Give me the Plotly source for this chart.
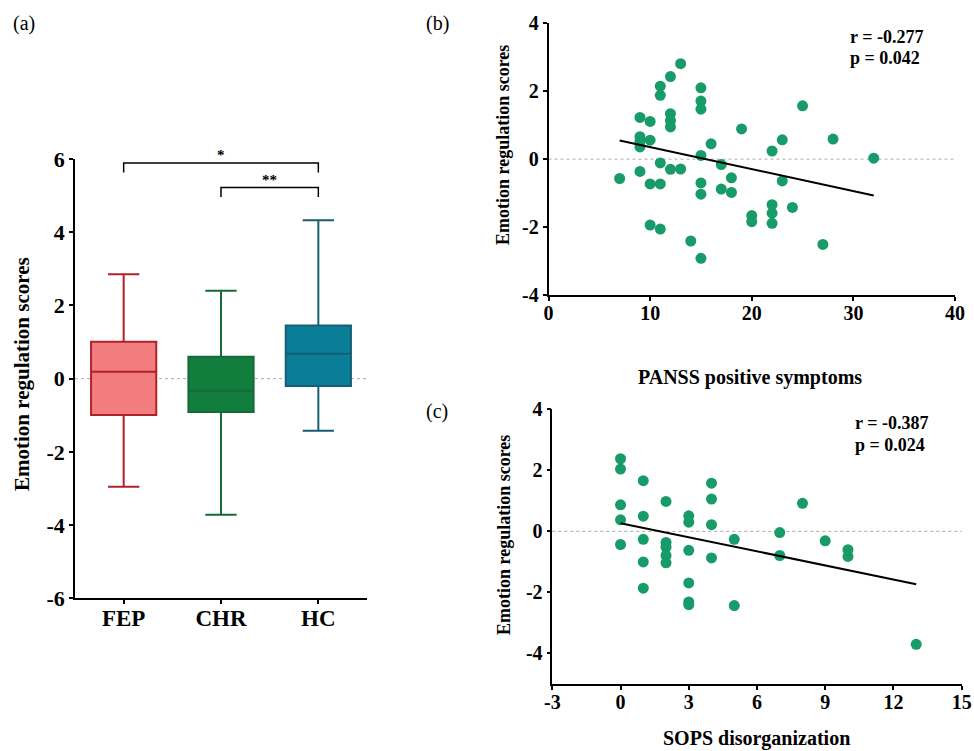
import plotly.graph_objects as go

# ---------------- data ----------------
groups = ["FEP", "CHR", "HC"]
box_lower = [-2.95, -3.72, -1.42]
box_q1 = [-0.99, -0.91, -0.20]
box_median = [0.19, -0.33, 0.68]
box_q3 = [1.01, 0.60, 1.45]
box_upper = [2.85, 2.40, 4.33]
sig_labels = ["*", "**"]
sig_from = ["FEP", "CHR"]
sig_to = ["HC", "HC"]

a_yticks = [-6, -4, -2, 0, 2, 4, 6]
a_yticktext = ["-6", "-4", "-2", "0", "2", "4", "6"]
b_xticks = [0, 10, 20, 30, 40]
b_yticks = [-4, -2, 0, 2, 4]
b_yticktext = ["-4", "-2", "0", "2", "4"]
c_xticks = [-3, 0, 3, 6, 9, 12, 15]
c_xticktext = ["-3", "0", "3", "6", "9", "12", "15"]
c_yticks = [-4, -2, 0, 2, 4]
c_yticktext = ["-4", "-2", "0", "2", "4"]

panss_x = [7, 9, 9, 9, 9, 9, 10, 10, 10, 10, 11, 11, 11, 11, 11, 12, 12, 12, 12, 12,
           13, 13, 14, 15, 15, 15, 15, 15, 15, 15, 16, 17, 17, 18, 18, 19, 20, 20,
           22, 22, 22, 22, 23, 23, 24, 25, 27, 28, 32]
panss_y = [-0.57, 1.23, 0.66, 0.52, 0.36, -0.36, 1.11, 0.56, -0.73, -1.94, 2.15, 1.88,
           -0.11, -0.73, -2.06, 2.43, 1.34, 1.14, 0.95, -0.30, 2.81, -0.29, -2.41, 2.10,
           1.71, 1.47, 0.11, -0.70, -1.03, -2.92, 0.45, -0.16, -0.88, -0.55, -0.98, 0.89,
           -1.66, -1.84, 0.24, -1.34, -1.59, -1.89, 0.57, -0.64, -1.42, 1.57, -2.51, 0.59, 0.03]
panss_fit_x = [7, 32]
panss_fit_y = [0.55, -1.07]
panss_stats = ["r = -0.277", "p = 0.042"]

sops_x = [0, 0, 0, 0, 0, 1, 1, 1, 1, 1, 2, 2, 2, 2, 2, 3, 3, 3, 3, 3, 3,
          4, 4, 4, 4, 5, 5, 7, 7, 8, 9, 10, 10, 13]
sops_y = [2.38, 2.04, 0.87, 0.38, -0.43, 1.66, 0.50, -0.26, -1.00, -1.86, 0.98, -0.36,
          -0.52, -0.79, -1.03, 0.51, 0.30, -0.62, -1.69, -2.31, -2.40, 1.58, 1.06, 0.22,
          -0.87, -0.26, -2.43, -0.04, -0.79, 0.92, -0.31, -0.60, -0.82, -3.70]
sops_fit_x = [0, 13]
sops_fit_y = [0.27, -1.73]
sops_stats = ["r = -0.387", "p = 0.024"]

# ---------------- styling ----------------
W, H = 974, 751
OFF = 0  # body margin removed by post_script
FONT = "Liberation Serif"
box_fill = ["#F27D7F", "#117E3E", "#0B7E97"]
box_line = ["#B02228", "#17693A", "#165E78"]
dot_color = "#179B68"


def px(x):
    return (x - OFF) / W


def py(y):
    return 1 - (y - OFF) / H


fig = go.Figure()

# ---- panel (a): box plots ----
for i, g in enumerate(groups):
    fig.add_trace(go.Box(
        x=[g], q1=[box_q1[i]], median=[box_median[i]], q3=[box_q3[i]],
        lowerfence=[box_lower[i]], upperfence=[box_upper[i]],
        fillcolor=box_fill[i], line=dict(color=box_line[i], width=2),
        width=0.67, whiskerwidth=0.48, boxpoints=False, showlegend=False,
        hoverinfo="skip", xaxis="x", yaxis="y",
    ))

# ---- panel (b) ----
fig.add_trace(go.Scatter(x=panss_x, y=panss_y, mode="markers",
                         marker=dict(size=11, color=dot_color),
                         showlegend=False, xaxis="x2", yaxis="y2"))
fig.add_trace(go.Scatter(x=panss_fit_x, y=panss_fit_y, mode="lines",
                         line=dict(color="black", width=2),
                         showlegend=False, xaxis="x2", yaxis="y2"))

# ---- panel (c) ----
fig.add_trace(go.Scatter(x=sops_x, y=sops_y, mode="markers",
                         marker=dict(size=11, color=dot_color),
                         showlegend=False, xaxis="x3", yaxis="y3"))
fig.add_trace(go.Scatter(x=sops_fit_x, y=sops_fit_y, mode="lines",
                         line=dict(color="black", width=2),
                         showlegend=False, xaxis="x3", yaxis="y3"))

tickfont = dict(family=FONT, size=20, color="black", weight="bold")
axis_common = dict(showline=True, linecolor="black", linewidth=1.5, ticks="outside",
                   ticklen=4, tickwidth=1.5, tickcolor="black", showgrid=False,
                   zeroline=False, mirror=False, automargin=False)

fig.update_layout(
    template="none",
    width=W, height=H, margin=dict(l=0, r=0, t=0, b=0, autoexpand=False),
    paper_bgcolor="white", plot_bgcolor="white", boxmode="overlay",
    xaxis=dict(domain=[px(75), px(367)], type="category", range=[-0.5, 2.5],
               anchor="y", ticklabelstandoff=-6,
               tickfont=dict(family=FONT, size=23, color="black", weight="bold"),
               **axis_common),
    yaxis=dict(domain=[py(598.3), py(159)], range=[-6, 6], tickvals=a_yticks,
               ticktext=a_yticktext, anchor="x",
               tickfont=dict(family=FONT, size=22, color="black", weight="bold"),
               **axis_common),
    xaxis2=dict(domain=[px(548.5), px(955)], range=[0, 40], tickvals=b_xticks,
                anchor="y2", ticklabelstandoff=-5, tickfont=tickfont, **axis_common),
    yaxis2=dict(domain=[py(295), py(23.3)], range=[-4, 4], tickvals=b_yticks,
                ticktext=b_yticktext, anchor="x2", tickfont=tickfont, **axis_common),
    xaxis3=dict(domain=[px(552.3), px(961.7)], range=[-3, 15],
                tickvals=c_xticks, ticktext=c_xticktext, ticklabelstandoff=-5,
                anchor="y3", tickfont=tickfont, **axis_common),
    yaxis3=dict(domain=[py(684), py(409.3)], range=[-5, 4], tickvals=c_yticks,
                ticktext=c_yticktext, anchor="x3", tickfont=tickfont, **axis_common),
)

# zero reference lines (dotted)
shapes = []
for xr, yr in [("x domain", "y"), ("x2 domain", "y2"), ("x3 domain", "y3")]:
    shapes.append(dict(type="line", xref=xr, yref=yr, x0=0, x1=1, y0=0, y1=0,
                       line=dict(color="#AAAAAA", width=1, dash="dot"), layer="below"))

# significance brackets
bracket_tops = [5.89, 5.22]
for k, lab in enumerate(sig_labels):
    a = groups.index(sig_from[k])
    b = groups.index(sig_to[k])
    top = bracket_tops[k]
    drop = 0.26
    shapes.append(dict(type="path", xref="x", yref="y",
                       path=f"M {a},{top - drop} L {a},{top} L {b},{top} L {b},{top - drop}",
                       line=dict(color="black", width=1.5)))
    fig.add_annotation(x=(a + b) / 2, y=top, xref="x", yref="y", text=lab,
                       showarrow=False, yanchor="bottom", yshift=-2,
                       font=dict(family=FONT, size=15, color="black", weight="bold"))
fig.update_layout(shapes=shapes)

# axis titles
def ann(text, x, y, size, angle=0, weight="bold", xanchor="center"):
    fig.add_annotation(text=text, x=px(x), y=py(y), xref="paper", yref="paper",
                       showarrow=False, textangle=angle, xanchor=xanchor, yanchor="middle",
                       font=dict(family=FONT, size=size, color="black", weight=weight))

ann("Emotion regulation scores", 22, 374, 21, angle=-90)
ann("Emotion regulation scores", 503, 145, 18, angle=-90)
ann("Emotion regulation scores", 504, 535, 18, angle=-90)
ann("PANSS positive symptoms", 750, 377, 20)
ann("SOPS disorganization", 756, 738, 20)

# stats text
ann(panss_stats[0], 848, 37, 18, xanchor="left")
ann(panss_stats[1], 848, 58, 18, xanchor="left")
ann(sops_stats[0], 853, 423, 18, xanchor="left")
ann(sops_stats[1], 853, 445, 18, xanchor="left")

# panel letters
ann("(a)", 24, 23, 20, weight="normal")
ann("(b)", 437, 23, 20, weight="normal")
ann("(c)", 437, 411, 20, weight="normal")

fig.write_html("out.html", config={"displayModeBar": False},
               post_script="document.body.style.margin='0px';"
                           "document.body.style.overflow='hidden';")
